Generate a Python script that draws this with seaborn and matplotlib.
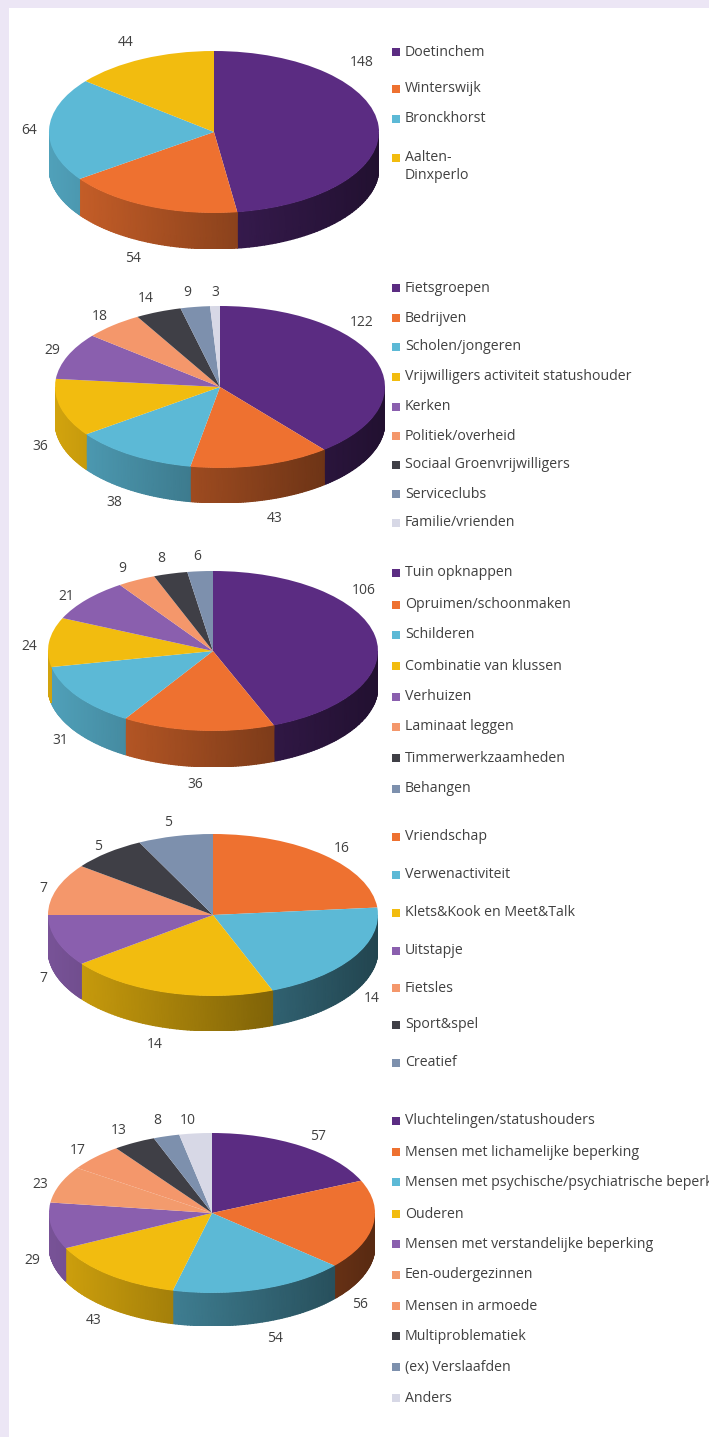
# Five "3D look" pie charts stacked, each with its own legend column
import numpy as np
import matplotlib
matplotlib.use('Agg')
import matplotlib.pyplot as plt
import seaborn as sns

# ==============================
# Data
# ==============================
gemeente_names = ['Doetinchem', 'Winterswijk', 'Bronckhorst', 'Aalten-\nDinxperlo']
gemeente_values = [148, 54, 64, 44]

aanvrager_names = ['Fietsgroepen', 'Bedrijven', 'Scholen/jongeren',
                   'Vrijwilligers activiteit statushouder', 'Kerken', 'Politiek/overheid',
                   'Sociaal Groenvrijwilligers', 'Serviceclubs', 'Familie/vrienden']
aanvrager_values = [122, 43, 38, 36, 29, 18, 14, 9, 3]

klus_names = ['Tuin opknappen', 'Opruimen/schoonmaken', 'Schilderen', 'Combinatie van klussen',
              'Verhuizen', 'Laminaat leggen', 'Timmerwerkzaamheden', 'Behangen']
klus_values = [106, 36, 31, 24, 21, 9, 8, 6]

activiteit_names = ['Vriendschap', 'Verwenactiviteit', 'Klets&Kook en Meet&Talk', 'Uitstapje',
                    'Fietsles', 'Sport&spel', 'Creatief']
activiteit_values = [16, 14, 14, 7, 7, 5, 5]

doelgroep_names = ['Vluchtelingen/statushouders', 'Mensen met lichamelijke beperking',
                   'Mensen met psychische/psychiatrische beperking', 'Ouderen',
                   'Mensen met verstandelijke beperking', 'Een-oudergezinnen', 'Mensen in armoede',
                   'Multiproblematiek', '(ex) Verslaafden', 'Anders']
doelgroep_values = [57, 56, 54, 43, 29, 23, 17, 13, 8, 10]

# ==============================
# Colours
# ==============================
PURPLE, ORANGE, BLUE, YELLOW = '#5b2c82', '#ee7130', '#5cb9d6', '#f2bc0f'
VIOLET, SALMON, DARK, SLATE, LILAC = '#8a5fae', '#f4976b', '#3f3f46', '#7d90ad', '#d7d8e6'

palette_main = sns.color_palette([PURPLE, ORANGE, BLUE, YELLOW, VIOLET, SALMON, DARK, SLATE, LILAC])
palette_activiteit = sns.color_palette([ORANGE, BLUE, YELLOW, VIOLET, SALMON, DARK, SLATE])
palette_doelgroep = sns.color_palette([PURPLE, ORANGE, BLUE, YELLOW, VIOLET, '#f39b6d', SALMON,
                                       DARK, SLATE, LILAC])

# ==============================
# Layout, in pixels of the 709x1437 picture
# ==============================
W, H = 709, 1437
TEXT_COLOR = '#404040'

charts = [
    dict(names=gemeente_names, values=gemeente_values, colors=palette_main,
         center=(214, 132), rx=165, ry=81, depth=36,
         label_x=[362, 133, 29, 126], label_y=[62, 258, 130, 42],
         legend_y=[52, 89, 119, 158]),
    dict(names=aanvrager_names, values=aanvrager_values, colors=palette_main,
         center=(220, 387), rx=165, ry=81, depth=35,
         label_x=[362, 275, 114, 40, 52, 100, 146, 187, 215],
         label_y=[322, 518, 503, 446, 350, 316, 298, 293, 292],
         legend_y=[288, 318, 347, 377, 407, 436, 465, 494, 523]),
    dict(names=klus_names, values=klus_values, colors=palette_main,
         center=(213, 651), rx=165, ry=80, depth=36,
         label_x=[364, 195, 60, 29, 66, 122, 161, 197],
         label_y=[590, 784, 740, 646, 596, 568, 559, 557],
         legend_y=[573, 605, 635, 666, 697, 727, 758, 789]),
    dict(names=activiteit_names, values=activiteit_values, colors=palette_activiteit,
         center=(213, 915), rx=165, ry=81, depth=35,
         label_x=[342, 372, 155, 43, 43, 98, 168],
         label_y=[849, 998, 1044, 978, 888, 846, 823],
         legend_y=[837, 875, 913, 951, 988, 1025, 1063]),
    dict(names=doelgroep_names, values=doelgroep_values, colors=palette_doelgroep,
         center=(212, 1213), rx=163, ry=80, depth=33,
         label_x=[318, 360, 275, 94, 32, 40, 78, 119, 157, 188],
         label_y=[1136, 1305, 1339, 1321, 1261, 1184, 1151, 1131, 1121, 1120],
         legend_y=[1121, 1152, 1182, 1214, 1244, 1275, 1306, 1336, 1367, 1398]),
]


def side_shade(color, xs):
    """Side wall gets darker towards the right of the pie"""
    factor = np.clip(0.62 - 0.25 * xs, 0.3, 0.9)
    return np.outer(factor, color)


def draw_pie(fig, chart):
    cx, cy = chart['center']
    rx, ry, depth = chart['rx'], chart['ry'], chart['depth']
    rect = [(cx - rx) / W, 1 - (cy + ry + depth) / H, 2 * rx / W, (2 * ry + depth) / H]
    ax = fig.add_axes(rect, zorder=1)
    ax.patch.set_alpha(0)

    wedges, _ = ax.pie(chart['values'], colors=chart['colors'], startangle=90,
                       counterclock=False, wedgeprops={'linewidth': 0, 'zorder': 2})

    # Side wall: only the part of each wedge on the front half of the rim
    drop = depth / ry
    for wedge, color in zip(wedges, chart['colors']):
        for lo, hi in [(-180, 0), (180, 360)]:
            start, end = max(wedge.theta1, lo), min(wedge.theta2, hi)
            if start >= end:
                continue
            angles = np.radians(np.linspace(start, end, 60))
            xs, ys = np.cos(angles), np.sin(angles)
            shade = side_shade(color, xs)
            ax.pcolormesh(np.vstack([xs, xs]), np.vstack([ys, ys - drop]),
                          np.stack([shade, shade]), shading='gouraud', zorder=1)

    ax.set_aspect('auto')
    ax.set_xlim(-1, 1)
    ax.set_ylim(-1 - drop, 1)
    ax.axis('off')


def draw_texts(ax, chart):
    for value, x, y in zip(chart['values'], chart['label_x'], chart['label_y']):
        ax.text(x, y, str(value), ha='center', va='center', fontsize=10, color=TEXT_COLOR)
    for name, color, y in zip(chart['names'], chart['colors'], chart['legend_y']):
        ax.scatter([396], [y], marker='s', s=40, color=color, linewidths=0)
        # the two-line entry hangs from its marker
        if '\n' in name:
            ax.text(405, y - 8, name, ha='left', va='top', fontsize=10.2, color=TEXT_COLOR,
                    linespacing=1.3)
        else:
            ax.text(405, y, name, ha='left', va='center', fontsize=10.2, color=TEXT_COLOR)


# ==============================
# Figure
# ==============================
sns.set_theme(style='white')
plt.rcParams['font.family'] = ['Open Sans', 'DejaVu Sans']

fig = plt.figure(figsize=(W / 100, H / 100), dpi=100, facecolor='#ece6f5')

back = fig.add_axes([0, 0, 1, 1], zorder=0)
back.set_xlim(0, W)
back.set_ylim(H, 0)
back.axis('off')
back.fill_between([9, W], [8, 8], [H, H], color='white', linewidth=0)

for chart in charts:
    draw_pie(fig, chart)
    draw_texts(back, chart)

fig.savefig('out.png', dpi=100, facecolor=fig.get_facecolor())
